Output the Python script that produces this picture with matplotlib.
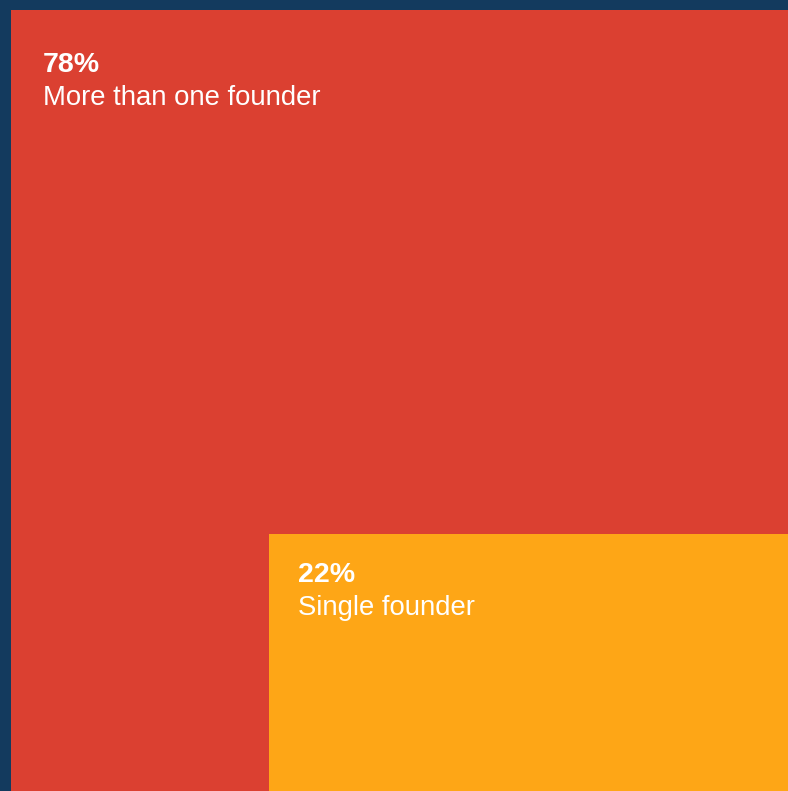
import matplotlib
matplotlib.use("Agg")
import matplotlib.pyplot as plt
from matplotlib.patches import Rectangle

labels = ["More than one founder", "Single founder"]
shares = [78, 22]
colors = ["#db4031", "#fea616"]
NAVY = "#133a5e"

# width of the nested (single founder) box as a fraction of the whole square
inner_w = 0.668
inner_h = shares[1] / 100 / inner_w

fig = plt.figure(figsize=(7.88, 7.91), dpi=100, facecolor=NAVY)
ax = fig.add_axes([11 / 788, 0, 777 / 788, 781 / 791])
ax.set_xlim(0, 1)
ax.set_ylim(0, 1)
ax.axis("off")

ax.add_patch(Rectangle((0, 0), 1, 1, color=colors[0], lw=0))
ax.add_patch(Rectangle((1 - inner_w, 0), inner_w, inner_h, color=colors[1], lw=0))

font = ["Liberation Sans", "DejaVu Sans"]
corners = [(0, 1), (1 - inner_w, inner_h)]
offsets = [(32, -62, -95), (29, -48, -81)]
for lab, val, (cx, cy), (dx, dy1, dy2) in zip(labels, shares, corners, offsets):
    ax.annotate(f"{val}%", (cx, cy), xytext=(dx, dy1), textcoords="offset pixels",
                color="white", fontsize=20.5, fontweight="bold", family=font,
                ha="left", va="baseline")
    ax.annotate(lab, (cx, cy), xytext=(dx, dy2), textcoords="offset pixels",
                color="white", fontsize=19.8, family=font,
                ha="left", va="baseline")

fig.savefig("out.png", dpi=100, facecolor=NAVY)
